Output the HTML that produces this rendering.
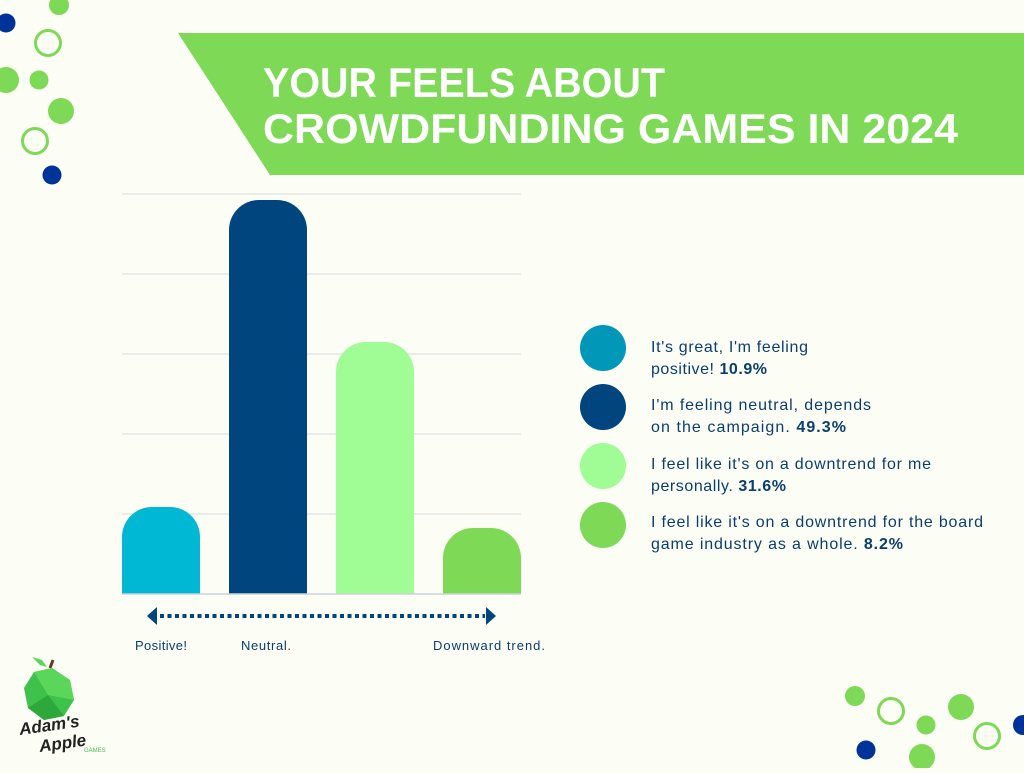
<!DOCTYPE html>
<html><head><meta charset="utf-8"><style>
html,body{margin:0;padding:0;background:#fcfdf5;}
body{width:1024px;height:768px;overflow:hidden;}
</style></head><body>
<svg width="1024" height="768" viewBox="0 0 1024 768" xmlns="http://www.w3.org/2000/svg" font-family="Liberation Sans, sans-serif">
<rect width="1024" height="768" fill="#fcfdf5"/>
<circle cx="59" cy="5" r="10" fill="#7ed957"/>
<circle cx="6" cy="23" r="9.5" fill="#003399"/>
<circle cx="48" cy="43" r="12.5" fill="none" stroke="#7ed957" stroke-width="3"/>
<circle cx="6" cy="80" r="13" fill="#7ed957"/>
<circle cx="39" cy="80" r="9.5" fill="#7ed957"/>
<circle cx="61" cy="111" r="13" fill="#7ed957"/>
<circle cx="35" cy="141" r="12.5" fill="none" stroke="#7ed957" stroke-width="3"/>
<circle cx="52" cy="175" r="9.5" fill="#003399"/>
<circle cx="855" cy="696" r="10" fill="#7ed957"/>
<circle cx="891" cy="711" r="12.5" fill="none" stroke="#7ed957" stroke-width="3"/>
<circle cx="926" cy="725" r="9.5" fill="#7ed957"/>
<circle cx="961" cy="707" r="13" fill="#7ed957"/>
<circle cx="987" cy="736" r="12.5" fill="none" stroke="#7ed957" stroke-width="3"/>
<circle cx="1023" cy="725" r="10" fill="#003399"/>
<circle cx="866" cy="750" r="9.5" fill="#003399"/>
<circle cx="922" cy="757" r="13" fill="#7ed957"/>
<polygon points="178,33 1024,33 1024,175 270,175" fill="#7ed957"/>
<text x="263" y="97" fill="#fff" font-weight="bold" font-size="42" textLength="402" lengthAdjust="spacingAndGlyphs">YOUR FEELS ABOUT</text>
<text x="263" y="143" fill="#fff" font-weight="bold" font-size="42" textLength="695" lengthAdjust="spacingAndGlyphs">CROWDFUNDING GAMES IN 2024</text>
<g stroke="#dfe3e3" stroke-width="1.2">
<line x1="122" y1="194" x2="521" y2="194"/>
<line x1="122" y1="274" x2="521" y2="274"/>
<line x1="122" y1="354" x2="521" y2="354"/>
<line x1="122" y1="434" x2="521" y2="434"/>
<line x1="122" y1="514" x2="521" y2="514"/>
</g>
<path d="M122,594 V537 A30,30 0 0 1 152,507 H170 A30,30 0 0 1 200,537 V594 Z" fill="#00b8d4"/>
<path d="M229,594 V230 A30,30 0 0 1 259,200 H277 A30,30 0 0 1 307,230 V594 Z" fill="#00457e"/>
<path d="M336,594 V372 A30,30 0 0 1 366,342 H384 A30,30 0 0 1 414,372 V594 Z" fill="#a0fc94"/>
<path d="M443,594 V558 A30,30 0 0 1 473,528 H491 A30,30 0 0 1 521,558 V594 Z" fill="#7ed957"/>
<line x1="122" y1="594" x2="521" y2="594" stroke="#c9d3d8" stroke-width="1.5"/>
<line x1="160" y1="616" x2="485" y2="616" stroke="#00457e" stroke-width="4" stroke-dasharray="4,3.5"/>
<polygon points="147,616 157,607 157,625" fill="#00457e"/>
<polygon points="496,616 486,607 486,625" fill="#00457e"/>
<g fill="#0b3e6f" font-size="13" lengthAdjust="spacingAndGlyphs">
<text x="135" y="650" textLength="52">Positive!</text>
<text x="241" y="650" textLength="50">Neutral.</text>
<text x="433" y="650" textLength="112">Downward trend.</text>
</g>
<circle cx="603" cy="348" r="23" fill="#0097b9"/>
<circle cx="603" cy="407" r="23" fill="#00457e"/>
<circle cx="603" cy="466" r="23" fill="#a0fc94"/>
<circle cx="603" cy="525" r="23" fill="#7ed957"/>
<g fill="#0b3e6f" font-size="16">
<text x="651" y="352" textLength="157">It's great, I'm feeling</text>
<text x="651" y="374" textLength="116">positive! <tspan font-weight="bold">10.9%</tspan></text>
<text x="651" y="410" textLength="220">I'm feeling neutral, depends</text>
<text x="651" y="432" textLength="195">on the campaign. <tspan font-weight="bold">49.3%</tspan></text>
<text x="651" y="469" textLength="280">I feel like it's on a downtrend for me</text>
<text x="651" y="491" textLength="135">personally. <tspan font-weight="bold">31.6%</tspan></text>
<text x="651" y="527" textLength="332">I feel like it's on a downtrend for the board</text>
<text x="651" y="549" textLength="252">game industry as a whole. <tspan font-weight="bold">8.2%</tspan></text>
</g>
<polygon points="32,657 42,660 47,667 40,665" fill="#5ad65a"/>
<line x1="50" y1="668" x2="53" y2="660" stroke="#6b3a1e" stroke-width="3"/>
<polygon points="52,668 70,680 74,700 64,716 44,720 28,708 24,688 34,672" fill="#3ec24b"/>
<polygon points="52,668 70,680 74,700 48,695 34,672" fill="#5ad65a"/>
<polygon points="28,708 44,720 64,716 48,695" fill="#2ea83a"/>
<text x="20" y="735" font-size="17" font-weight="bold" font-style="italic" fill="#222" transform="rotate(-8 20 735)">Adam's</text>
<text x="40" y="752" font-size="17" font-weight="bold" font-style="italic" fill="#222" transform="rotate(-8 40 752)">Apple</text>
<text x="84" y="752" font-size="6" fill="#3ec24b">GAMES</text>
</svg>
</body></html>
